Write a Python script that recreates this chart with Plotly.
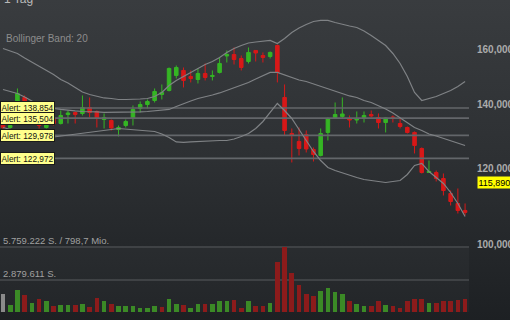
import base64
import math
import numpy as np
import pandas as pd
import plotly.graph_objects as go

# ---------------- data ----------------
dates = pd.bdate_range("2025-07-14", periods=65)

open_ = [134400, 132470, 134720, 142410, 135700, 136030, 132470, 135370, 133750, 136690,
         137350, 137020, 139010, 137680, 135050, 134720, 131830, 133110, 135370, 138680,
         140020, 141380, 143440, 144830, 150170, 151990, 149800, 148720, 150890, 149800,
         151260, 157390, 157960, 156440, 155320, 159500, 157580, 157200, 161420, 142410,
         130570, 128080, 130260, 125630, 123820, 130890, 135700, 136030, 135370, 134880,
         135700, 136690, 135700, 134070, 135860, 133750, 132470, 130890, 125930, 118850,
         118850, 117140, 112980, 110290, 108450]
high = [135050, 134070, 145530, 143100, 138680, 137350, 136030, 136690, 138010, 138010,
        137680, 143100, 142410, 138010, 137020, 135050, 133110, 135050, 139680, 141040,
        141720, 145530, 146950, 153090, 153830, 153090, 151990, 152720, 154570, 151990,
        156820, 159500, 160650, 157580, 160650, 159690, 158740, 159120, 161810, 146950,
        132150, 132470, 131520, 126240, 132150, 135700, 140700, 142410, 136360, 137680,
        137680, 138010, 137020, 135700, 136360, 135370, 132790, 131200, 126240, 122330,
        119420, 118560, 113800, 114350, 110290]
low = [128380, 132150, 134070, 136360, 135050, 132150, 132150, 133110, 133430, 133750,
       133750, 136360, 135700, 132470, 132150, 131520, 129630, 132470, 133110, 137350,
       138680, 140700, 141720, 144480, 149080, 145890, 147660, 147300, 148370, 148370,
       150890, 154940, 154200, 151990, 154570, 155320, 154940, 156440, 147660, 129950,
       121750, 123820, 124720, 122040, 123530, 128380, 135370, 135370, 132470, 133750,
       134070, 135700, 132150, 130890, 134070, 132150, 130570, 124420, 118560, 118700,
       116300, 112440, 109760, 107660, 107150]
close = [132470, 133110, 143790, 137020, 138010, 133110, 135050, 133750, 136360, 137180,
         136690, 139010, 137350, 135370, 135700, 132310, 132470, 134400, 138350, 140020,
         141040, 144480, 144140, 152720, 153090, 148370, 149080, 150890, 149440, 150170,
         154570, 157960, 156070, 153090, 158740, 158540, 156820, 158740, 151260, 131520,
         129950, 125930, 125780, 124120, 130570, 135370, 136690, 136850, 134880, 135370,
         136360, 136190, 134070, 135530, 135370, 132790, 130890, 126850, 118850, 119140,
         117140, 113800, 110820, 108450, 107930]
volume = [1595000, 682000, 1949000, 1568000, 824000, 1178000, 975000, 558000, 620000, 620000,
          682000, 771000, 470000, 1240000, 975000, 709000, 532000, 532000, 532000, 381000,
          354000, 532000, 443000, 1152000, 771000, 620000, 416000, 709000, 709000, 735000,
          1001000, 975000, 1063000, 416000, 975000, 532000, 594000, 797000, 4457000, 5759222,
          3482000, 2392000, 1595000, 1418000, 1923000, 2188000, 1834000, 1657000, 975000, 771000,
          532000, 532000, 975000, 682000, 532000, 416000, 975000, 1152000, 1214000, 859000,
          859000, 1001000, 975000, 1063000, 1178000]
bb_upper = [160270, 159310, 158340, 156630, 155130, 153640, 151990, 150530, 148720, 147480,
            145890, 144310, 143440, 142750, 142240, 142060, 141720, 141720, 141720, 141890,
            142060, 142750, 144140, 146590, 148370, 149800, 151260, 152720, 154200, 155320,
            156820, 158740, 160270, 161420, 162400, 162790, 163190, 163390, 162200, 164180,
            166570, 168380, 169810, 171040, 171460, 171460, 170630, 169810, 169200, 168590,
            167170, 165370, 163390, 161420, 158340, 154570, 149800, 144140, 141380, 142060,
            142750, 143790, 144830, 146240, 148010]
bb_middle = [145180, 144480, 143790, 142580, 141210, 140190, 139350, 138680, 138350, 138010,
             137850, 137680, 137680, 137520, 137350, 137350, 137350, 137350, 137350, 137520,
             137680, 137850, 138010, 138350, 139350, 140360, 141210, 142060, 142580, 143270,
             143970, 144830, 145710, 146590, 147660, 148900, 150170, 151260, 151260, 150350,
             149440, 148540, 148010, 147120, 146240, 145360, 144660, 143620, 142930, 142410,
             141380, 140700, 139680, 138510, 137180, 135530, 134070, 132470, 131520, 130410,
             129790, 129000, 128380, 127610, 126850]
bb_lower = [132470, 131830, 131200, 130570, 130100, 129790, 129470, 129470, 129790, 129950,
            130260, 130570, 130890, 131200, 131520, 131830, 132150, 131990, 131830, 131680,
            131520, 131200, 130410, 129320, 127920, 127770, 127920, 128080, 128080, 128230,
            128380, 128380, 128850, 129630, 130570, 132150, 134400, 137350, 140360, 138010,
            135370, 131830, 128380, 125020, 122330, 120290, 119420, 118700, 117990, 117420,
            116860, 116580, 116300, 116020, 116300, 116580, 118280, 120870, 121460, 119140,
            117420, 115740, 113250, 110290, 106880]

alerts = [138854, 135504, 129978, 122972]
last_price_label = 115890
price_ticks = [100000, 120000, 140000, 160000, 180000]
tick_dates = ["2025-08-04", "2025-09-04", "2025-10-01"]
vol_max = 5759222
vol_labels = ["5.759.222 S. / 798,7 Mio.", "2.879.611 S."]
chart_title = "1 Tag"
indicator_label = "Bollinger Band: 20"

# ---------------- styling ----------------
W, H = 510, 320
PLOT_W, PLOT_H = 469, 315
FONT = "Liberation Sans, Arial, sans-serif"
GREEN = "#35b524"
RED = "#d81818"
VGREEN = "#3b8a26"
VRED = "#8c1b1b"
VGRAY = "#8a8a8a"
BAND = "#7f8285"
ALERT_LINE = "#63666a"

x = np.arange(len(dates))
date_str = [d.strftime("%Y-%m-%d") for d in dates]
tickvals = [date_str.index(d) for d in tick_dates]
ticktext = [pd.Timestamp(d).strftime("%d.%m") for d in tick_dates]

vol_colors = [VGRAY] + [VGREEN if close[i] > close[i - 1] else VRED for i in range(1, len(close))]

fig = go.Figure()

# alert lines
for a in alerts:
    fig.add_trace(go.Scatter(x=[x[0] - 2, x[-1] + 2], y=[a, a], mode="lines",
                             line=dict(color=ALERT_LINE, width=1.6), hoverinfo="skip",
                             showlegend=False))

# bollinger bands
for band in (bb_upper, bb_middle, bb_lower):
    fig.add_trace(go.Scatter(x=x, y=band, mode="lines", line=dict(color=BAND, width=1.2),
                             hoverinfo="skip", showlegend=False))

# candles
fig.add_trace(go.Candlestick(
    x=x, open=open_, high=high, low=low, close=close,
    increasing=dict(line=dict(color=GREEN, width=1), fillcolor=GREEN),
    decreasing=dict(line=dict(color=RED, width=1), fillcolor=RED),
    whiskerwidth=0, hoverinfo="skip", showlegend=False))

# volume
fig.add_trace(go.Bar(x=x, y=volume, yaxis="y2", marker=dict(color=vol_colors, line=dict(width=0)),
                     width=0.64, hoverinfo="skip", showlegend=False))

# geometry helpers
x_left = -3 / 7.22
x_right = x_left + PLOT_W / 7.22
log_top = 5.2556
log_bot = log_top - PLOT_H / 955.0
vol_top = vol_max * 1.02
vd0 = 3 / PLOT_H
vd1 = (PLOT_H - (312 - 65 * 1.02)) / PLOT_H

svg = ('<svg xmlns="http://www.w3.org/2000/svg" width="510" height="320">'
       '<defs><linearGradient id="g" x1="0" y1="0" x2="0" y2="1">'
       '<stop offset="0" stop-color="#393c3f"/><stop offset="0.5" stop-color="#2d3033"/>'
       '<stop offset="1" stop-color="#1d2023"/></linearGradient></defs>'
       '<rect width="510" height="320" fill="url(#g)"/></svg>')
bg_src = "data:image/svg+xml;base64," + base64.b64encode(svg.encode()).decode()

annotations = []
for a in alerts:
    annotations.append(dict(xref="paper", x=0, xanchor="left", yref="y", y=math.log10(a),
                            yanchor="middle", text=f"Alert: {a:,}", showarrow=False,
                            font=dict(family=FONT, size=8.3, color="#111"),
                            bgcolor="#ffff8c", bordercolor="#1a1a1a", borderwidth=1, borderpad=0.5))
annotations.append(dict(xref="paper", x=477 / PLOT_W, xanchor="left", yref="y",
                        y=math.log10(last_price_label), yanchor="middle",
                        text=f"{last_price_label:,}", showarrow=False,
                        font=dict(family=FONT, size=9, color="#000"),
                        bgcolor="#ffff00", borderpad=0.5))
annotations.append(dict(xref="paper", x=2 / PLOT_W, xanchor="left", yref="paper",
                        y=1 + 1 / PLOT_H, yanchor="middle", text=chart_title, showarrow=False,
                        font=dict(family=FONT, size=12, color="#b8b8b8")))
annotations.append(dict(xref="paper", x=4 / PLOT_W, xanchor="left", yref="paper",
                        y=1 - 38 / PLOT_H, yanchor="middle", text=indicator_label, showarrow=False,
                        font=dict(family=FONT, size=10, color="#8c8c8c")))
for frac, lab in zip([1.0, 0.5], vol_labels):
    annotations.append(dict(xref="paper", x=1 / PLOT_W, xanchor="left", yref="y2",
                            y=vol_max * frac, yanchor="bottom", yshift=-1, text=lab,
                            showarrow=False, font=dict(family=FONT, size=9.5, color="#a0a0a0")))

fig.update_layout(
    width=W, height=H,
    margin=dict(l=0, r=W - PLOT_W, t=0, b=H - PLOT_H, pad=0, autoexpand=False),
    paper_bgcolor="#2a2d30",
    plot_bgcolor="rgba(255,255,255,0.025)",
    showlegend=False,
    bargap=0,
    images=[dict(source=bg_src, xref="paper", yref="paper", x=0, y=1,
                 sizex=W / PLOT_W, sizey=H / PLOT_H, sizing="stretch", layer="below")],
    xaxis=dict(range=[x_left, x_right], showgrid=False, zeroline=False, showline=False,
               automargin=False, rangeslider=dict(visible=False), tickvals=tickvals,
               ticktext=ticktext, ticks="", ticklabelstandoff=2,
               tickfont=dict(family=FONT, size=9.5, color="#9a9a9a", weight="bold")),
    yaxis=dict(type="log", range=[log_bot, log_top], side="right", showgrid=False,
               automargin=False, zeroline=False, showline=False, ticks="",
               tickvals=price_ticks, ticktext=[f"{t:,}" for t in price_ticks],
               ticklabelstandoff=7,
               tickfont=dict(family=FONT, size=10, color="#ababab", weight="bold")),
    yaxis2=dict(domain=[vd0, vd1], range=[0, vol_top], anchor="x", showgrid=True,
                automargin=False, gridcolor="#3f4245", gridwidth=1.5,
                tickvals=[vol_max / 2, vol_max], showticklabels=False, zeroline=False,
                showline=False, ticks=""),
    annotations=annotations,
    shapes=[dict(type="line", xref="paper", x0=473 / PLOT_W, x1=476 / PLOT_W, yref="y",
                 y0=math.log10(last_price_label), y1=math.log10(last_price_label),
                 line=dict(color="#aaaaaa", width=1))],
)

fig.write_html("out.html", config={"displayModeBar": False})
